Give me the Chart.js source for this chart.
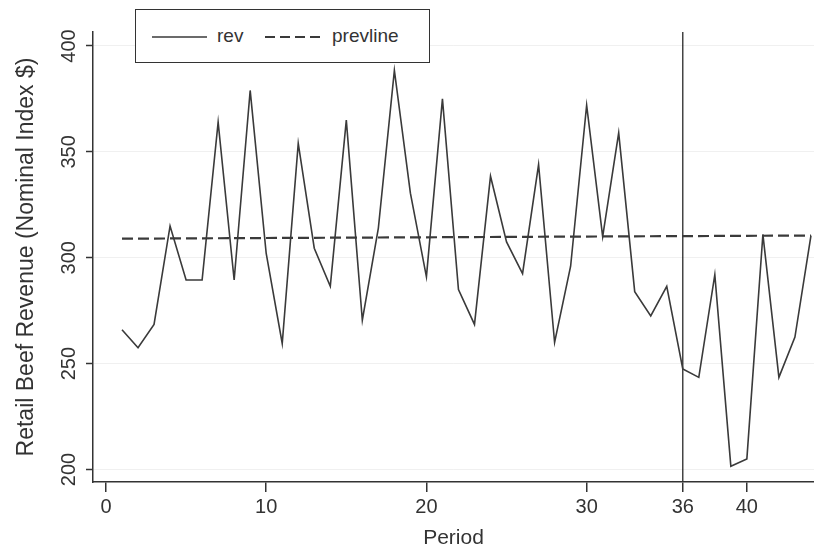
<!DOCTYPE html>
<html>
<head>
<meta charset="utf-8">
<title>Retail Beef Revenue</title>
<script src="https://cdn.jsdelivr.net/npm/chart.js@4.4.1/dist/chart.umd.min.js"></script>
<style>
  html, body { margin: 0; padding: 0; background: #fff; }
  #wrap { position: relative; width: 814px; height: 553px; }
  #legend {
    position: absolute; left: 135px; top: 9px; width: 295px; height: 54px;
    box-sizing: border-box; border: 1.5px solid #333; background: #fff;
    font: 19px "Liberation Sans", Arial, sans-serif; color: #333;
  }
  #legend svg { position: absolute; left: 0; top: 0; }
  #legend span { position: absolute; top: 15px; line-height: 22px; }
</style>
</head>
<body>
<div id="wrap">
  <canvas id="chart" width="814" height="553"></canvas>
  <div id="legend">
    <svg width="292" height="51">
      <line x1="16" y1="27" x2="71" y2="27" stroke="#3a3a3a" stroke-width="1.6"/>
      <line x1="129" y1="27" x2="185" y2="27" stroke="#3a3a3a" stroke-width="2" stroke-dasharray="10,5"/>
    </svg>
    <span id="lab-rev" style="left:81px">rev</span>
    <span id="lab-prev" style="left:196px">prevline</span>
  </div>
</div>
<script>
// values
const periods = [1, 2, 3, 4, 5, 6, 7, 8, 9, 10, 11, 12, 13, 14, 15, 16, 17, 18, 19, 20, 21, 22,
                 23, 24, 25, 26, 27, 28, 29, 30, 31, 32, 33, 34, 35, 36, 37, 38, 39, 40, 41, 42, 43, 44];
const rev = [266, 257.5, 268.5, 315, 289.5, 289.5, 364, 289.5, 379, 302, 259.5, 354, 304.5, 286.5,
             365, 270.5, 314, 388.5, 330.5, 291, 375, 285, 268.5, 338.5, 307.5, 292.5, 344, 260,
             296, 372, 310, 359, 284, 272.5, 286.5, 247.5, 243.5, 292, 201.5, 205, 311, 243.5,
             262.5, 310.5];
const prevPeriods = [1, 44];
const prevValues = [309.0, 310.5];
const breakPeriod = 36;
const xTickValues = [0, 10, 20, 30, 36, 40];
const yTickValues = [200, 250, 300, 350, 400];

const ink = '#333';
const lineInk = '#3a3a3a';
const fontFamily = '"Liberation Sans", Arial, sans-serif';

const revPoints = periods.map((p, i) => ({ x: p, y: rev[i] }));
const prevPoints = prevPeriods.map((p, i) => ({ x: p, y: prevValues[i] }));

new Chart(document.getElementById('chart'), {
  type: 'line',
  data: {
    datasets: [
      {
        label: 'rev',
        data: revPoints,
        borderColor: lineInk,
        borderWidth: 1.6,
        pointRadius: 0,
        tension: 0,
      },
      {
        label: 'prevline',
        data: prevPoints,
        borderColor: lineInk,
        borderWidth: 2.2,
        borderDash: [11, 5],
        pointRadius: 0,
        tension: 0,
      },
    ],
  },
  options: {
    responsive: false,
    animation: false,
    devicePixelRatio: 1,
    layout: { padding: { top: 32, right: 0, bottom: 0, left: 0 } },
    plugins: {
      legend: { display: false },
      tooltip: { enabled: false },
    },
    scales: {
      x: {
        type: 'linear',
        min: -0.81,
        max: 44.19,
        afterBuildTicks: (scale) => {
          scale.ticks = xTickValues.map((v) => ({ value: v }));
        },
        afterFit: (scale) => { scale.height = 71; },
        ticks: {
          autoSkip: false,
          maxRotation: 0,
          padding: 3,
          color: ink,
          font: { family: fontFamily, size: 20 },
        },
        grid: {
          // only the period-36 gridline is drawn: the vertical break line
          color: (ctx) => (ctx.tick && ctx.tick.value === breakPeriod ? '#444' : 'rgba(0,0,0,0)'),
          lineWidth: 1.5,
          tickColor: ink,
          tickLength: 10,
          tickWidth: 1.5,
        },
        border: { color: ink, width: 1.5 },
        title: {
          display: true,
          text: 'Period',
          color: ink,
          font: { family: fontFamily, size: 21 },
          padding: { top: 0, bottom: 2 },
        },
      },
      y: {
        min: 194.1,
        max: 406.6,
        afterBuildTicks: (scale) => {
          scale.ticks = yTickValues.map((v) => ({ value: v }));
        },
        afterFit: (scale) => { scale.width = 93; },
        ticks: {
          minRotation: 90,
          maxRotation: 90,
          crossAlign: 'center',
          padding: 0,
          color: ink,
          font: { family: fontFamily, size: 20 },
        },
        grid: {
          color: 'rgba(0,0,0,0.06)',
          lineWidth: 1,
          tickColor: ink,
          tickLength: 7,
          tickWidth: 1.5,
        },
        border: { color: ink, width: 1.5 },
        title: {
          display: true,
          text: 'Retail Beef Revenue (Nominal Index $)',
          color: ink,
          font: { family: fontFamily, size: 23 },
          padding: { top: 13, bottom: 0 },
        },
      },
    },
  },
});
</script>
</body>
</html>
